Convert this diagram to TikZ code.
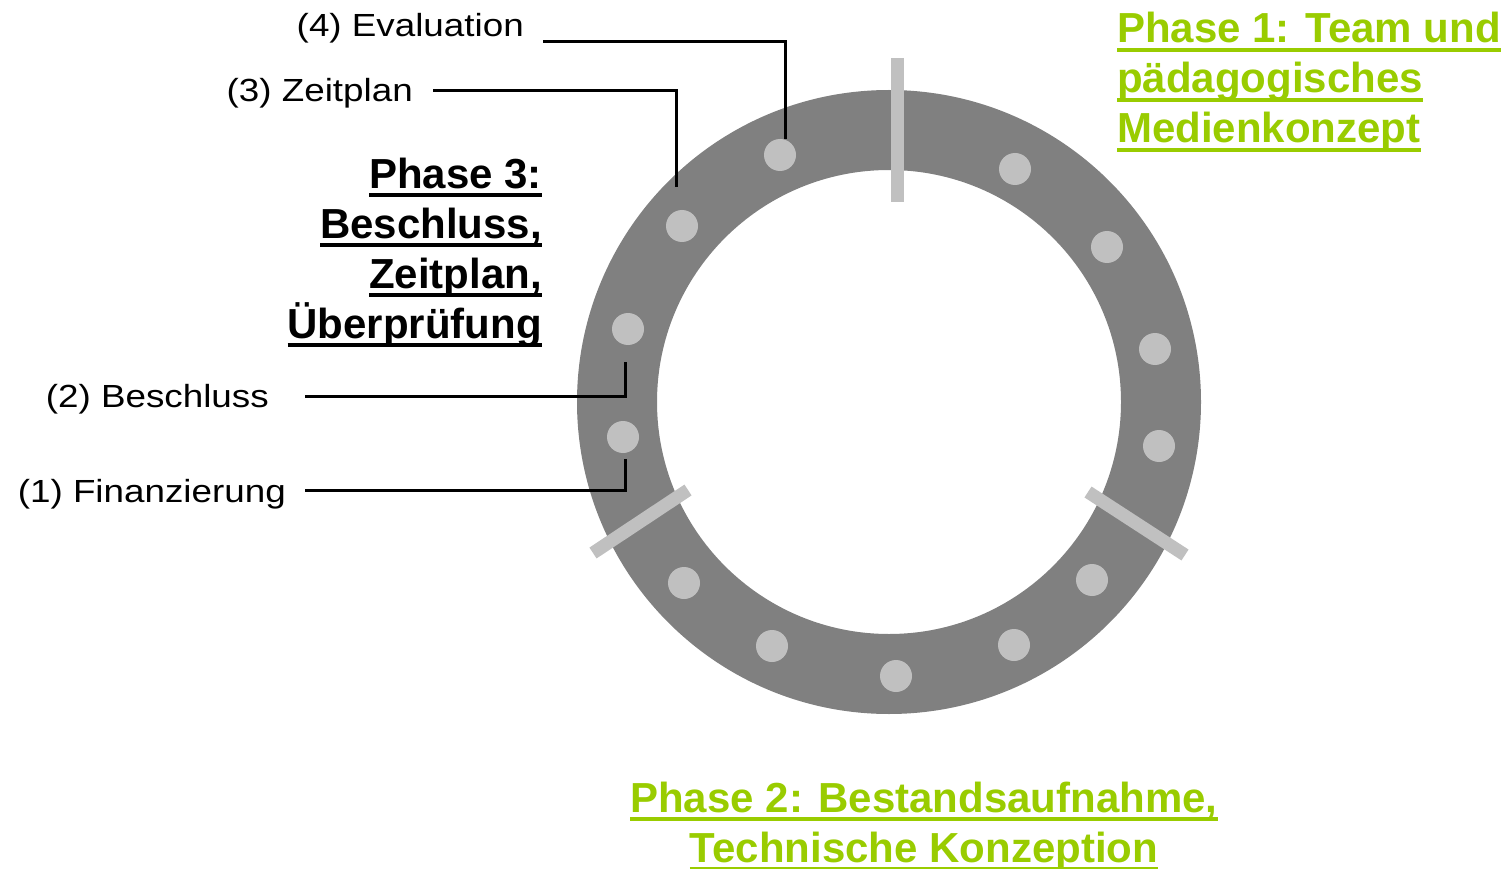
\documentclass[tikz,border=0pt]{standalone}
\usepackage{fontspec}
\setmainfont{Liberation Sans}
\newfontfamily\lblfont{Liberation Sans}[FakeStretch=1.15]

% thick underline placed 5pt to 9pt below the baseline
\newsavebox\phbox
\newcommand\phul[1]{\sbox\phbox{#1}\leavevmode\rlap{\rule[-9pt]{\wd\phbox}{4pt}}\usebox\phbox}

\definecolor{ringgray}{HTML}{808080}
\definecolor{dotgray}{HTML}{C0C0C0}
\definecolor{phasegreen}{HTML}{99CC00}

\tikzset{
  ringfill/.style={fill=ringgray},
  dot/.style={circle, fill=dotgray, minimum size=32pt, inner sep=0pt},
  divider/.style={draw=dotgray, line width=13pt, line cap=butt},
  lbl/.style={font=\lblfont\fontsize{32}{38}\selectfont, inner sep=0pt, anchor=base east},
  phase/.style={font=\bfseries\fontsize{42}{50}\selectfont, inner sep=0pt},
  conn/.style={draw=black, line width=3pt}
}

\begin{document}
\begin{tikzpicture}[x=1pt,y=-1pt]
  \useasboundingbox (0,0) rectangle (1508,869);

  % ring
  \fill[ringfill, even odd rule] (889,402) circle[radius=312] (889,402) circle[radius=232];

  % phase dividers
  \draw[divider] (897,58) -- (897,202);
  \draw[divider] (593,553) -- (688,490);
  \draw[divider] (1088,492) -- (1185,555);

  % step dots
  \node[dot] (dE) at (780,155) {};
  \node[dot] (dZ) at (682,226) {};
  \node[dot] (dB) at (628,329) {};
  \node[dot] (dF) at (623,437) {};
  \node[dot] (d5) at (684,583) {};
  \node[dot] (d6) at (772,646) {};
  \node[dot] (d7) at (896,676) {};
  \node[dot] (d8) at (1014,645) {};
  \node[dot] (d9) at (1092,580) {};
  \node[dot] (d10) at (1159,446) {};
  \node[dot] (d11) at (1155,349) {};
  \node[dot] (d12) at (1107,247) {};
  \node[dot] (d13) at (1015,169) {};

  % step labels
  \node[lbl] (lE) at (524,37) {(4) Evaluation};
  \node[lbl] (lZ) at (413,102) {(3) Zeitplan};
  \node[lbl] (lB) at (269,407) {(2) Beschluss};
  \node[lbl] (lF) at (286,502) {(1) Finanzierung};

  % connectors from labels to dots
  \coordinate (sE) at (543,42);
  \coordinate (sZ) at (433,91);
  \coordinate (sB) at (305,396);
  \coordinate (sF) at (305,490);
  \draw[conn] (sE) -| ([xshift=5pt]dE.north);
  \draw[conn] (sZ) -| ([xshift=-6pt,yshift=23pt]dZ.north);
  \draw[conn] (sB) -| ([xshift=-3pt,yshift=-17pt]dB.south);
  \draw[conn] (sF) -| ([xshift=2pt,yshift=-6pt]dF.south);

  % phase headings (base anchor = baseline of the last line)
  \node[phase, text=phasegreen, align=left, anchor=base west] (p1) at (1117,143)
    {\phul{Phase 1: Team und}\\\phul{pädagogisches}\\\phul{Medienkonzept}};
  \node[phase, text=phasegreen, align=center, anchor=base] (p2) at (924,862)
    {\phul{Phase 2: Bestandsaufnahme,}\\\phul{Technische Konzeption}};
  \node[phase, text=black, align=right, anchor=base east] (p3) at (542,338)
    {\phul{Phase 3:}\\\phul{Beschluss,}\\\phul{Zeitplan,}\\\phul{Überprüfung}};
\end{tikzpicture}
\end{document}
